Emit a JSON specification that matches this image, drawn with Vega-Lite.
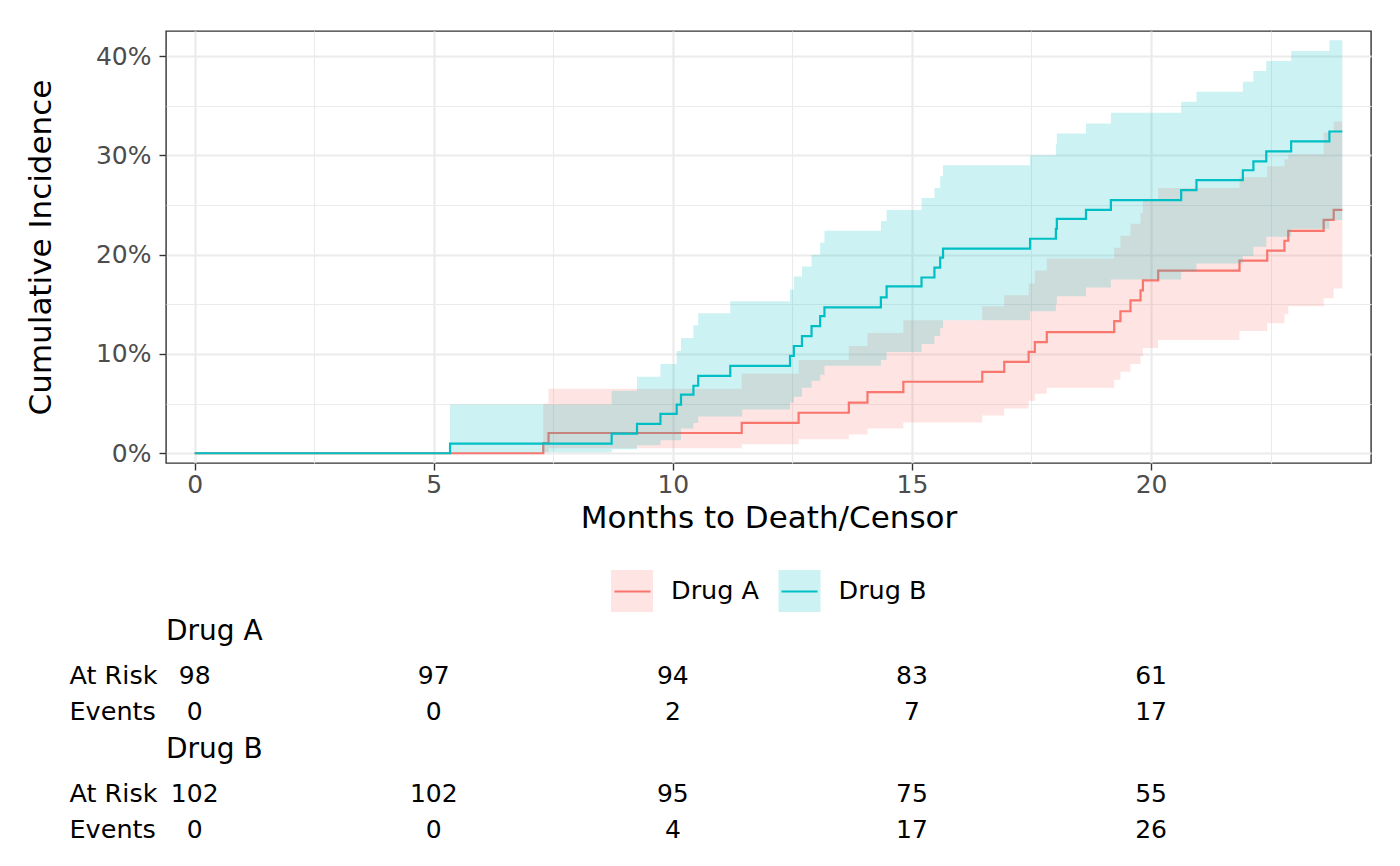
{
  "$schema": "https://vega.github.io/schema/vega-lite/v6.json",
  "background": "white",
  "padding": {"left": 24, "top": 30, "right": 20, "bottom": 5},
  "config": {
    "font": "DejaVu Sans",
    "view": {"stroke": null},
    "axis": {"labelFont": "DejaVu Sans", "titleFont": "DejaVu Sans"},
    "legend": {"labelFont": "DejaVu Sans"},
    "title": {"font": "DejaVu Sans"}
  },
  "datasets": {
    "curves": [
      {"g": "Drug A", "t": 0, "est": 0, "lo": 0, "hi": 0},
      {"g": "Drug A", "t": 7.29, "est": 0.0102, "lo": 0.001, "hi": 0.05},
      {"g": "Drug A", "t": 7.4, "est": 0.0204, "lo": 0.005, "hi": 0.065},
      {"g": "Drug A", "t": 11.44, "est": 0.0306, "lo": 0.009, "hi": 0.08},
      {"g": "Drug A", "t": 12.63, "est": 0.0408, "lo": 0.014, "hi": 0.094},
      {"g": "Drug A", "t": 13.68, "est": 0.051, "lo": 0.019, "hi": 0.108},
      {"g": "Drug A", "t": 14.07, "est": 0.0615, "lo": 0.025, "hi": 0.121},
      {"g": "Drug A", "t": 14.82, "est": 0.072, "lo": 0.031, "hi": 0.134},
      {"g": "Drug A", "t": 16.47, "est": 0.082, "lo": 0.038, "hi": 0.148},
      {"g": "Drug A", "t": 16.93, "est": 0.092, "lo": 0.045, "hi": 0.159},
      {"g": "Drug A", "t": 17.44, "est": 0.102, "lo": 0.053, "hi": 0.171},
      {"g": "Drug A", "t": 17.57, "est": 0.112, "lo": 0.06, "hi": 0.184},
      {"g": "Drug A", "t": 17.82, "est": 0.122, "lo": 0.066, "hi": 0.196},
      {"g": "Drug A", "t": 19.23, "est": 0.133, "lo": 0.074, "hi": 0.207},
      {"g": "Drug A", "t": 19.36, "est": 0.143, "lo": 0.082, "hi": 0.219},
      {"g": "Drug A", "t": 19.57, "est": 0.154, "lo": 0.09, "hi": 0.231},
      {"g": "Drug A", "t": 19.78, "est": 0.164, "lo": 0.098, "hi": 0.242},
      {"g": "Drug A", "t": 19.83, "est": 0.174, "lo": 0.106, "hi": 0.254},
      {"g": "Drug A", "t": 20.15, "est": 0.184, "lo": 0.114, "hi": 0.267},
      {"g": "Drug A", "t": 21.85, "est": 0.194, "lo": 0.123, "hi": 0.278},
      {"g": "Drug A", "t": 22.43, "est": 0.204, "lo": 0.131, "hi": 0.289},
      {"g": "Drug A", "t": 22.79, "est": 0.214, "lo": 0.14, "hi": 0.296},
      {"g": "Drug A", "t": 22.87, "est": 0.224, "lo": 0.148, "hi": 0.301},
      {"g": "Drug A", "t": 23.61, "est": 0.235, "lo": 0.156, "hi": 0.323},
      {"g": "Drug A", "t": 23.82, "est": 0.245, "lo": 0.166, "hi": 0.334},
      {"g": "Drug A", "t": 24.0, "est": 0.245, "lo": 0.166, "hi": 0.334},
      {"g": "Drug B", "t": 0, "est": 0, "lo": 0, "hi": 0},
      {"g": "Drug B", "t": 5.34, "est": 0.0098, "lo": 0.001, "hi": 0.049},
      {"g": "Drug B", "t": 8.72, "est": 0.0198, "lo": 0.004, "hi": 0.063},
      {"g": "Drug B", "t": 9.25, "est": 0.0295, "lo": 0.008, "hi": 0.077},
      {"g": "Drug B", "t": 9.74, "est": 0.0396, "lo": 0.013, "hi": 0.09},
      {"g": "Drug B", "t": 10.08, "est": 0.049, "lo": 0.013, "hi": 0.103},
      {"g": "Drug B", "t": 10.17, "est": 0.059, "lo": 0.025, "hi": 0.116},
      {"g": "Drug B", "t": 10.43, "est": 0.068, "lo": 0.0305, "hi": 0.129},
      {"g": "Drug B", "t": 10.53, "est": 0.078, "lo": 0.037, "hi": 0.141},
      {"g": "Drug B", "t": 11.2, "est": 0.088, "lo": 0.037, "hi": 0.153},
      {"g": "Drug B", "t": 11.45, "est": 0.088, "lo": 0.044, "hi": 0.153},
      {"g": "Drug B", "t": 12.45, "est": 0.098, "lo": 0.051, "hi": 0.165},
      {"g": "Drug B", "t": 12.53, "est": 0.108, "lo": 0.057, "hi": 0.178},
      {"g": "Drug B", "t": 12.7, "est": 0.118, "lo": 0.066, "hi": 0.188},
      {"g": "Drug B", "t": 12.9, "est": 0.128, "lo": 0.073, "hi": 0.2},
      {"g": "Drug B", "t": 13.08, "est": 0.138, "lo": 0.079, "hi": 0.212},
      {"g": "Drug B", "t": 13.17, "est": 0.147, "lo": 0.088, "hi": 0.224},
      {"g": "Drug B", "t": 14.35, "est": 0.157, "lo": 0.094, "hi": 0.234},
      {"g": "Drug B", "t": 14.47, "est": 0.168, "lo": 0.102, "hi": 0.245},
      {"g": "Drug B", "t": 15.2, "est": 0.177, "lo": 0.11, "hi": 0.257},
      {"g": "Drug B", "t": 15.47, "est": 0.187, "lo": 0.118, "hi": 0.267},
      {"g": "Drug B", "t": 15.59, "est": 0.197, "lo": 0.126, "hi": 0.279},
      {"g": "Drug B", "t": 15.65, "est": 0.206, "lo": 0.134, "hi": 0.29},
      {"g": "Drug B", "t": 17.47, "est": 0.216, "lo": 0.143, "hi": 0.3},
      {"g": "Drug B", "t": 18.01, "est": 0.226, "lo": 0.15, "hi": 0.312},
      {"g": "Drug B", "t": 18.03, "est": 0.236, "lo": 0.158, "hi": 0.322},
      {"g": "Drug B", "t": 18.64, "est": 0.245, "lo": 0.167, "hi": 0.332},
      {"g": "Drug B", "t": 19.16, "est": 0.255, "lo": 0.175, "hi": 0.343},
      {"g": "Drug B", "t": 20.63, "est": 0.265, "lo": 0.183, "hi": 0.354},
      {"g": "Drug B", "t": 20.95, "est": 0.275, "lo": 0.191, "hi": 0.364},
      {"g": "Drug B", "t": 21.92, "est": 0.285, "lo": 0.199, "hi": 0.374},
      {"g": "Drug B", "t": 22.14, "est": 0.294, "lo": 0.208, "hi": 0.385},
      {"g": "Drug B", "t": 22.41, "est": 0.304, "lo": 0.218, "hi": 0.395},
      {"g": "Drug B", "t": 22.93, "est": 0.314, "lo": 0.226, "hi": 0.405},
      {"g": "Drug B", "t": 23.73, "est": 0.324, "lo": 0.235, "hi": 0.416},
      {"g": "Drug B", "t": 24.0, "est": 0.324, "lo": 0.235, "hi": 0.416}
    ],
    "risk": [
      {"g": "Drug A", "row": "At Risk", "t": 0, "n": 98},
      {"g": "Drug A", "row": "At Risk", "t": 5, "n": 97},
      {"g": "Drug A", "row": "At Risk", "t": 10, "n": 94},
      {"g": "Drug A", "row": "At Risk", "t": 15, "n": 83},
      {"g": "Drug A", "row": "At Risk", "t": 20, "n": 61},
      {"g": "Drug A", "row": "Events", "t": 0, "n": 0},
      {"g": "Drug A", "row": "Events", "t": 5, "n": 0},
      {"g": "Drug A", "row": "Events", "t": 10, "n": 2},
      {"g": "Drug A", "row": "Events", "t": 15, "n": 7},
      {"g": "Drug A", "row": "Events", "t": 20, "n": 17},
      {"g": "Drug B", "row": "At Risk", "t": 0, "n": 102},
      {"g": "Drug B", "row": "At Risk", "t": 5, "n": 102},
      {"g": "Drug B", "row": "At Risk", "t": 10, "n": 95},
      {"g": "Drug B", "row": "At Risk", "t": 15, "n": 75},
      {"g": "Drug B", "row": "At Risk", "t": 20, "n": 55},
      {"g": "Drug B", "row": "Events", "t": 0, "n": 0},
      {"g": "Drug B", "row": "Events", "t": 5, "n": 0},
      {"g": "Drug B", "row": "Events", "t": 10, "n": 4},
      {"g": "Drug B", "row": "Events", "t": 15, "n": 17},
      {"g": "Drug B", "row": "Events", "t": 20, "n": 26}
    ]
  },
  "spacing": 6,
  "vconcat": [
    {
      "width": 1205,
      "height": 432,
      "view": {"stroke": "#333333", "strokeWidth": 1.4},
      "data": {"name": "curves"},
      "encoding": {
        "x": {
          "field": "t",
          "type": "quantitative",
          "title": "Months to Death/Censor",
          "scale": {"domain": [-0.6, 24.6], "nice": false, "zero": false},
          "axis": {
            "values": [0, 2.5, 5, 7.5, 10, 12.5, 15, 17.5, 20, 22.5],
            "format": "d",
            "labelExpr": "datum.value % 5 === 0 ? datum.label : ''",
            "domain": false,
            "tickSize": 7,
            "tickColor": "#333333",
            "tickWidth": 1.4,
            "tickOpacity": {"condition": {"test": "datum.value % 5 === 0", "value": 1}, "value": 0},
            "gridColor": "#EBEBEB",
            "gridWidth": {"condition": {"test": "datum.value % 5 === 0", "value": 2.2}, "value": 1.1},
            "labelFontSize": 25,
            "labelColor": "#4D4D4D",
            "labelPadding": 2,
            "titleFontSize": 31,
            "titleFontWeight": "normal",
            "titleColor": "black",
            "titlePadding": 6
          }
        }
      },
      "layer": [
        {
          "transform": [{"filter": "datum.g === 'Drug A'"}],
          "mark": {"type": "area", "interpolate": "step-after", "fillOpacity": 0.2},
          "encoding": {
            "y": {
              "field": "lo",
              "type": "quantitative",
              "title": "Cumulative Incidence",
              "scale": {"domain": [-0.0098, 0.4252], "nice": false, "zero": false},
              "axis": {
                "values": [0, 0.05, 0.1, 0.15, 0.2, 0.25, 0.3, 0.35, 0.4],
                "format": ".0%",
                "labelExpr": "round(datum.value * 100) % 10 === 0 ? datum.label : ''",
                "domain": false,
                "tickSize": 7,
                "tickColor": "#333333",
                "tickWidth": 1.4,
                "tickOpacity": {"condition": {"test": "round(datum.value * 100) % 10 === 0", "value": 1}, "value": 0},
                "gridColor": "#EBEBEB",
                "gridWidth": {"condition": {"test": "round(datum.value * 100) % 10 === 0", "value": 2.2}, "value": 1.1},
                "labelFontSize": 25,
                "labelColor": "#4D4D4D",
                "labelPadding": 8,
                "titleFontSize": 31,
                "titleFontWeight": "normal",
                "titleColor": "black",
                "titlePadding": 38
              }
            },
            "y2": {"field": "hi"},
            "fill": {
              "field": "g",
              "type": "nominal",
              "scale": {"domain": ["Drug A", "Drug B"], "range": ["#F8766D", "#00BFC4"]},
              "legend": {
                "orient": "none",
                "legendX": 445,
                "legendY": 539,
                "direction": "horizontal",
                "title": null,
                "padding": 0,
                "symbolType": "square",
                "symbolSize": 1764,
                "symbolOpacity": 0.2,
                "symbolStrokeWidth": 0,
                "labelFontSize": 25.5,
                "labelColor": "black",
                "labelOffset": 18,
                "columnPadding": 18.5
              }
            }
          }
        },
        {
          "transform": [{"filter": "datum.g === 'Drug A'"}, {"calculate": "datum.g + ' '", "as": "grp"}],
          "mark": {"type": "line", "interpolate": "step-after", "strokeWidth": 2.2},
          "encoding": {
            "y": {
              "field": "est",
              "type": "quantitative",
              "title": "Cumulative Incidence",
              "scale": {"domain": [-0.0098, 0.4252], "nice": false, "zero": false}
            },
            "stroke": {
              "field": "grp",
              "type": "nominal",
              "scale": {"domain": ["Drug A ", "Drug B "], "range": ["#F8766D", "#00BFC4"]},
              "legend": {
                "orient": "none",
                "legendX": 444,
                "legendY": 538,
                "direction": "horizontal",
                "title": null,
                "padding": 0,
                "symbolType": "M-0.86,0L0.86,0",
                "symbolSize": 1764,
                "symbolStrokeWidth": 2.2,
                "labelExpr": "''",
                "labelOffset": 0,
                "labelFontSize": 25.5,
                "columnPadding": 122
              }
            }
          }
        },
        {
          "transform": [{"filter": "datum.g === 'Drug B'"}],
          "mark": {"type": "area", "interpolate": "step-after", "fillOpacity": 0.2},
          "encoding": {
            "y": {
              "field": "lo",
              "type": "quantitative",
              "title": "Cumulative Incidence",
              "scale": {"domain": [-0.0098, 0.4252], "nice": false, "zero": false}
            },
            "y2": {"field": "hi"},
            "fill": {"field": "g", "type": "nominal"}
          }
        },
        {
          "transform": [{"filter": "datum.g === 'Drug B'"}, {"calculate": "datum.g + ' '", "as": "grp"}],
          "mark": {"type": "line", "interpolate": "step-after", "strokeWidth": 2.2},
          "encoding": {
            "y": {
              "field": "est",
              "type": "quantitative",
              "title": "Cumulative Incidence",
              "scale": {"domain": [-0.0098, 0.4252], "nice": false, "zero": false}
            },
            "stroke": {"field": "grp", "type": "nominal"}
          }
        }
      ]
    },
    {
      "width": 1205,
      "height": 72,
      "title": {"text": ["", "Drug A"], "lineHeight": 78, "anchor": "start", "frame": "group", "fontSize": 28, "fontWeight": "normal", "color": "black", "offset": 12},
      "data": {"name": "risk"},
      "transform": [{"filter": "datum.g === 'Drug A'"}],
      "mark": {"type": "text", "fontSize": 25, "color": "black", "font": "DejaVu Sans"},
      "encoding": {
        "x": {"field": "t", "type": "quantitative", "scale": {"domain": [-0.6, 24.6], "nice": false, "zero": false}, "axis": null},
        "y": {
          "field": "row",
          "type": "nominal",
          "scale": {"type": "band", "domain": ["At Risk", "Events"], "paddingInner": 0, "paddingOuter": 0},
          "axis": {"title": null, "domain": false, "ticks": false, "tickSize": 0, "labelAlign": "left", "labelPadding": 97, "labelFontSize": 25.5, "labelColor": "black"}
        },
        "text": {"field": "n", "type": "quantitative"}
      }
    },
    {
      "width": 1205,
      "height": 72,
      "title": {"text": "Drug B", "anchor": "start", "frame": "group", "fontSize": 28, "fontWeight": "normal", "color": "black", "offset": 12},
      "data": {"name": "risk"},
      "transform": [{"filter": "datum.g === 'Drug B'"}],
      "mark": {"type": "text", "fontSize": 25, "color": "black", "font": "DejaVu Sans"},
      "encoding": {
        "x": {"field": "t", "type": "quantitative", "scale": {"domain": [-0.6, 24.6], "nice": false, "zero": false}, "axis": null},
        "y": {
          "field": "row",
          "type": "nominal",
          "scale": {"type": "band", "domain": ["At Risk", "Events"], "paddingInner": 0, "paddingOuter": 0},
          "axis": {"title": null, "domain": false, "ticks": false, "tickSize": 0, "labelAlign": "left", "labelPadding": 97, "labelFontSize": 25.5, "labelColor": "black"}
        },
        "text": {"field": "n", "type": "quantitative"}
      }
    }
  ]
}
